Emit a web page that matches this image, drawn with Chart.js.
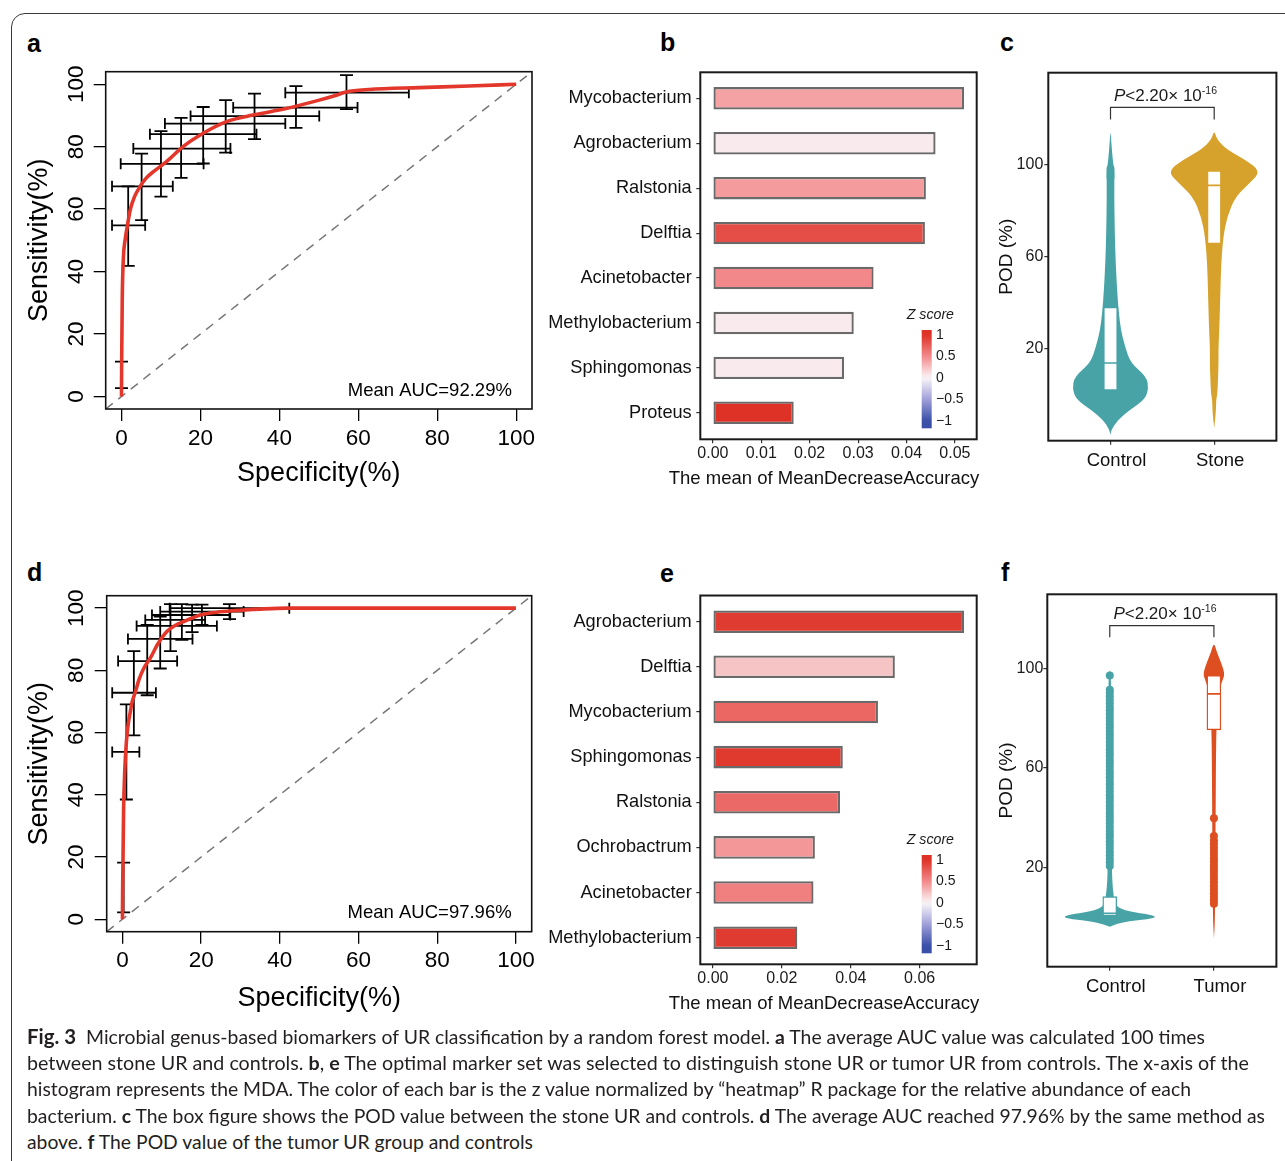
<!DOCTYPE html>
<html>
<head>
<meta charset="utf-8">
<script src="https://cdn.jsdelivr.net/npm/chart.js@4.4.1/dist/chart.umd.min.js"></script>
<style>
html, body { margin: 0; padding: 0; background: #fff; }
body { width: 1285px; height: 1161px; position: relative; overflow: hidden; font-family: 'Liberation Sans', Arial, sans-serif; }
#frame { position: absolute; left: 11px; top: 13px; width: 1330px; height: 1220px; border: 1.3px solid #3a3a3a; border-radius: 14px; box-sizing: border-box; }
canvas { position: absolute; }
.tag { position: absolute; font-weight: bold; font-size: 25px; line-height: 25px; color: #000; }
.xt { position: absolute; font-size: 18.5px; line-height: 22px; color: #111; white-space: nowrap; transform: translateX(-50%); }
.ln { position: absolute; left: 27px; white-space: nowrap; font-family: Lato, 'Open Sans', sans-serif; font-size: 19px; line-height: 20px; color: #231f20; transform-origin: 0 50%; }
.ln b { font-weight: bold; }
.ln .fig { font-size: 20px; }
</style>
</head>
<body>
<div id="frame"></div>

<div class="tag" style="left:27px;top:31px">a</div>
<div class="tag" style="left:660px;top:30px">b</div>
<div class="tag" style="left:1000px;top:30px">c</div>
<div class="tag" style="left:27px;top:560px">d</div>
<div class="tag" style="left:660px;top:561px">e</div>
<div class="tag" style="left:1001px;top:560px">f</div>

<canvas id="chartA" width="525" height="440" style="left:20px;top:60px;width:525px;height:440px"></canvas>
<canvas id="chartB" width="460" height="440" style="left:530px;top:55px;width:460px;height:440px"></canvas>
<canvas id="chartC" width="295" height="440" style="left:990px;top:55px;width:295px;height:440px"></canvas>
<canvas id="chartD" width="525" height="440" style="left:20px;top:585px;width:525px;height:440px"></canvas>
<canvas id="chartE" width="460" height="440" style="left:530px;top:580px;width:460px;height:440px"></canvas>
<canvas id="chartF" width="295" height="440" style="left:990px;top:580px;width:295px;height:440px"></canvas>

<div class="xt" style="left:824px;top:467px">The mean of MeanDecreaseAccuracy</div>
<div class="xt" style="left:824px;top:992px">The mean of MeanDecreaseAccuracy</div>

<div class="ln" data-w="1178" style="top:1026px"><b class="fig">Fig. 3</b>&nbsp;&nbsp;Microbial genus-based biomarkers of UR classification by a random forest model. <b>a</b> The average AUC value was calculated 100 times</div>
<div class="ln" data-w="1222" style="top:1053px">between stone UR and controls. <b>b</b>, <b>e</b> The optimal marker set was selected to distinguish stone UR or tumor UR from controls. The x-axis of the</div>
<div class="ln" data-w="1164" style="top:1079px">histogram represents the MDA. The color of each bar is the z value normalized by “heatmap” R package for the relative abundance of each</div>
<div class="ln" data-w="1238" style="top:1106px">bacterium. <b>c</b> The box figure shows the POD value between the stone UR and controls. <b>d</b> The average AUC reached 97.96% by the same method as</div>
<div class="ln" data-w="506" style="top:1132px">above. <b>f</b> The POD value of the tumor UR group and controls</div>

<script>
// Fig. 3 - random forest biomarkers: ROC curves, MDA bars, POD violins

// ==================== DATA ====================
// ROC (a, d): mean curve + confidence crosses
const rocTicks = [0, 20, 40, 60, 80, 100];
const rocRange = [-4, 104];

const aSpec = [0, 0.05, 0.2, 0.5, 0.9, 1.4, 2.2, 3.3, 4.7, 6.3, 8.1, 11.4, 15.6, 20.6, 26.6, 33.3, 41.7, 50.1, 54, 56.9, 62.7, 75.4, 88, 100];
const aSens = [0, 12, 32, 44.8, 50, 54, 59.7, 64, 67.2, 70, 72, 75.2, 80, 84.2, 88, 90.1, 92.2, 94.9, 96.3, 97.5, 98.3, 98.9, 99.4, 100];
// [sensitivity, spec low, spec high]
const aSpecCI = [[54.8, -2.4, 6.0], [67.3, -2.4, 13.0], [74.5, -0.2, 20.8], [79.4, 3.0, 27.6], [84.0, 7.2, 34.2], [87.4, 11.0, 41.5], [89.8, 17.5, 50.1], [92.5, 28.3, 59.8], [97.3, 41.5, 72.8]];
// [specificity, sens low, sens high]
const aSensCI = [[0.0, 2.7, 11.2], [1.7, 41.8, 67.3], [5.1, 56.5, 77.8], [10.0, 64.0, 85.0], [15.1, 70.0, 89.2], [20.7, 74.6, 92.7], [26.4, 78.1, 94.9], [33.7, 82.4, 97.0], [44.2, 86.0, 99.4], [57.0, 92.0, 102.9]];
const aAUC = 'Mean AUC=92.29%';

const dSpec = [0, 0.05, 0.3, 0.6, 1.0, 1.5, 2.0, 2.5, 3.3, 4.2, 5.4, 7.1, 9.0, 11.3, 13.5, 15.6, 19.8, 24, 28.3, 35, 41.8, 60, 100];
const dSens = [0, 10, 35.5, 48, 57, 63, 66.7, 70, 73.1, 77, 80.6, 84, 88.5, 92.5, 94.5, 95.7, 97.8, 98.7, 99.2, 99.7, 100, 100, 100];
const dSpecCI = [[53.8, -2.6, 4.3], [72.8, -2.6, 8.5], [83.0, -1.1, 13.9], [90.1, 1.4, 17.8], [94.3, 3.6, 24.0], [96.2, 5.8, 21.0], [97.8, 7.5, 27.4], [98.9, 9.6, 30.8], [100, 12.0, 42.4]];
const dSensCI = [[0.3, 2.2, 18.2], [1.0, 38.5, 69.1], [2.9, 59.1, 86.2], [6.3, 72.0, 94.6], [9.6, 80.6, 97.3], [12.2, 86.2, 101.3], [15.1, 89.8, 101.3], [17.7, 92.3, 101.1], [20.2, 94.6, 101.1], [27.2, 96.5, 101.3]];
const dAUC = 'Mean AUC=97.96%';

// MDA bars (b, e) with z score of relative abundance
const bGenus = ['Mycobacterium', 'Agrobacterium', 'Ralstonia', 'Delftia', 'Acinetobacter', 'Methylobacterium', 'Sphingomonas', 'Proteus'];
const bMDA = [0.0519, 0.0460, 0.0440, 0.0438, 0.0332, 0.0291, 0.0271, 0.0167];
const bZ = [0.39, 0.05, 0.42, 0.84, 0.51, 0.05, 0.05, 1.0];
const bTicks = [0, 0.01, 0.02, 0.03, 0.04, 0.05];

const eGenus = ['Agrobacterium', 'Delftia', 'Mycobacterium', 'Sphingomonas', 'Ralstonia', 'Ochrobactrum', 'Acinetobacter', 'Methylobacterium'];
const eMDA = [0.0729, 0.0528, 0.0479, 0.0377, 0.0369, 0.0296, 0.0292, 0.0245];
const eZ = [0.95, 0.23, 0.70, 0.96, 0.68, 0.44, 0.56, 0.95];
const eTicks = [0, 0.02, 0.04, 0.06];

const zTicks = [1, 0.5, 0, -0.5, -1];

// POD violins (c, f): y values and relative density
const podTicks = [20, 60, 100];

const cGroups = ['Control', 'Stone'];
const cCtrlY = [-17.4, -15.2, -10.9, -6.5, -2.2, 2.5, 8.0, 13.8, 21.0, 28.3, 35.5, 42.7, 57.2, 71.7, 86.2, 96.4, 103.6, 109.3, 115.1];
const cCtrlD = [0, 0.02, 0.16, 0.42, 0.73, 0.82, 0.77, 0.43, 0.31, 0.22, 0.18, 0.15, 0.11, 0.09, 0.08, 0.085, 0.04, 0.02, 0];
const cStoneY = [-14.5, -8.0, -2.2, 0.7, 8.0, 13.8, 19.6, 28.3, 42.7, 57.2, 68.8, 77.5, 86.2, 92.1, 97.1, 102.2, 106.5, 110.9, 115.1];
const cStoneD = [0, 0.036, 0.042, 0.07, 0.084, 0.094, 0.09, 0.11, 0.13, 0.15, 0.195, 0.28, 0.455, 0.77, 1, 0.665, 0.28, 0.057, 0];
const cQ1 = [1.9, 65.6];
const cMedian = [13.8, 91.0];
const cQ3 = [38.1, 97.4];
const cCtrlOut = [94.5, 95.8, 97.0, 98.2];
const cStoneOut = [];

const fGroups = ['Control', 'Tumor'];
const fCtrlY = [-3.9, -1.9, -0.8, 0.1, 1.0, 2.0, 3.4, 5.4, 11.5, 18.2, 38.3, 65.1, 91.9, 95.9, 100.6];
const fCtrlD = [0, 0.27, 0.84, 1, 0.84, 0.46, 0.21, 0.105, 0.063, 0.046, 0.031, 0.029, 0.027, 0.025, 0];
const fTumorY = [-8.6, -1.9, 11.5, 38.3, 58.4, 71.8, 85.2, 90.6, 94.6, 97.3, 99.3, 102.7, 106.7, 110.7];
const fTumorD = [0, 0.021, 0.027, 0.036, 0.042, 0.048, 0.069, 0.105, 0.168, 0.224, 0.21, 0.147, 0.063, 0];
const fQ1 = [0.5, 75.4];
const fMedian = [1.5, 89.9];
const fQ3 = [8.2, 97.3];
const fCtrlOut = [20.6, 22.1, 23.4, 24.9, 26.3, 27.8, 29.2, 30.5, 32.1, 33.4, 34.8, 36.3, 37.9, 39.2, 40.6, 42.0, 43.5, 44.9, 46.4, 47.7, 49.1, 50.6, 52.0, 53.5, 54.8, 56.3, 57.7, 59.0, 60.6, 62.0, 63.3, 64.9, 66.2, 67.6, 69.1, 70.5, 71.9, 73.4, 74.7, 76.2, 77.6, 79.0, 80.4, 81.9, 83.3, 84.6, 86.1, 87.5, 88.9, 90.4, 91.6, 97.3];
const fTumorOut = [5.4, 6.8, 8.1, 9.6, 11.0, 12.4, 13.9, 15.3, 16.6, 18.1, 19.5, 20.9, 22.4, 23.7, 25.2, 26.6, 28.0, 29.5, 30.8, 32.6, 39.8];

const pValueText = ['P', '<2.20\u00d7 10', '-16'];

// ==================== STYLE ====================
const FONT = '"Liberation Sans", Arial, sans-serif';
Chart.defaults.font.family = FONT;
Chart.defaults.color = '#000';

const TEAL = '#48a3a7', GOLD = '#d7a22c', ORANGE = '#dd4f21', RED = '#e2372a';
const zStops = [[-1, [58, 80, 168]], [-0.5, [160, 160, 218]], [0, [250, 246, 248]], [0.5, [243, 138, 140]], [1, [222, 50, 38]]];

function zColor(z) {
    z = Math.max(-1, Math.min(1, z));
    for (let i = 1; i < zStops.length; i++) {
        const [z0, c0] = zStops[i - 1], [z1, c1] = zStops[i];
        if (z <= z1) {
            const t = (z - z0) / (z1 - z0);
            return 'rgb(' + c0.map((c, k) => Math.round(c + (c1[k] - c) * t)).join(',') + ')';
        }
    }
}

// ==================== PLUGINS ====================
function framePlugin(width, color) {
    return {
        id: 'frame',
        afterDraw(chart) {
            const { ctx, chartArea: a } = chart;
            ctx.save();
            ctx.lineWidth = width; ctx.strokeStyle = color;
            ctx.strokeRect(a.left, a.top, a.right - a.left, a.bottom - a.top);
            ctx.restore();
        }
    };
}

// R style y labels, turned to read bottom-up
function rotatedYLabels(offset, size) {
    return {
        id: 'rotY',
        afterDraw(chart) {
            const { ctx, chartArea } = chart, y = chart.scales.y;
            ctx.save();
            ctx.font = size + 'px ' + FONT; ctx.fillStyle = '#000';
            ctx.textAlign = 'center'; ctx.textBaseline = 'middle';
            y.ticks.forEach(t => {
                ctx.save();
                ctx.translate(chartArea.left - offset, y.getPixelForValue(t.value));
                ctx.rotate(-Math.PI / 2);
                ctx.fillText(String(t.value), 0, 0);
                ctx.restore();
            });
            ctx.restore();
        }
    };
}

function cornerText(text, xv, yv) {
    return {
        id: 'auc',
        afterDatasetsDraw(chart) {
            const { ctx, scales: { x, y } } = chart;
            ctx.save();
            ctx.font = '18.5px ' + FONT; ctx.fillStyle = '#000';
            ctx.textAlign = 'right'; ctx.textBaseline = 'alphabetic';
            ctx.fillText(text, x.getPixelForValue(xv), y.getPixelForValue(yv));
            ctx.restore();
        }
    };
}

function zLegend(ticks) {
    return {
        id: 'zLegend',
        afterDraw(chart) {
            const { ctx, chartArea: a } = chart;
            const left = a.right - 55, w = 10, top = a.bottom - 109.3, h = 98.3;
            const vy = v => top + 5 + (1 - v) / 2 * 85.7;
            const grad = ctx.createLinearGradient(0, top, 0, top + h);
            for (let i = 0; i <= 24; i++) {
                const py = top + h * i / 24;
                grad.addColorStop(i / 24, zColor(1 - (py - top - 5) / 42.85));
            }
            ctx.save();
            ctx.fillStyle = grad; ctx.fillRect(left, top, w, h);
            ctx.font = '14px ' + FONT; ctx.fillStyle = '#1a1a1a';
            ctx.textAlign = 'left'; ctx.textBaseline = 'middle';
            ticks.forEach(v => ctx.fillText(String(v).replace('-', '\u2212'), left + w + 4.3, vy(v)));
            ctx.font = 'italic 14.2px ' + FONT;
            ctx.fillText('Z score', a.right - 70, top - 15);
            ctx.restore();
        }
    };
}

function violinLayer(groups, half) {
    return {
        id: 'violins',
        beforeDatasetsDraw(chart) {
            const { ctx, chartArea: a, scales: { x, y } } = chart;
            ctx.save();
            ctx.beginPath(); ctx.rect(a.left, a.top, a.right - a.left, a.bottom - a.top); ctx.clip();
            groups.forEach(g => {
                const pts = [];
                g.y.forEach((v, i) => pts.push([x.getPixelForValue(g.x - g.d[i] * half), y.getPixelForValue(v)]));
                for (let i = g.y.length - 2; i >= 0; i--) pts.push([x.getPixelForValue(g.x + g.d[i] * half), y.getPixelForValue(g.y[i])]);
                ctx.beginPath();
                ctx.moveTo(pts[0][0], pts[0][1]);
                for (let i = 1; i < pts.length - 1; i++) {
                    ctx.quadraticCurveTo(pts[i][0], pts[i][1], (pts[i][0] + pts[i + 1][0]) / 2, (pts[i][1] + pts[i + 1][1]) / 2);
                }
                ctx.closePath();
                ctx.fillStyle = g.color;
                ctx.fill();
            });
            ctx.restore();
        }
    };
}

function pLabel(parts, xv, yv) {
    return {
        id: 'pLabel',
        afterDatasetsDraw(chart) {
            const { ctx, scales: { x, y } } = chart;
            const fonts = ['italic 17px ' + FONT, '17px ' + FONT, '10.5px ' + FONT];
            const rise = [0, 0, -7];
            ctx.save();
            const widths = parts.map((t, i) => { ctx.font = fonts[i]; return ctx.measureText(t).width; });
            let px = x.getPixelForValue(xv) - widths.reduce((s, w) => s + w, 0) / 2;
            const py = y.getPixelForValue(yv);
            ctx.fillStyle = '#1a1a1a'; ctx.textBaseline = 'alphabetic'; ctx.textAlign = 'left';
            parts.forEach((t, i) => { ctx.font = fonts[i]; ctx.fillText(t, px, py + rise[i]); px += widths[i]; });
            ctx.restore();
        }
    };
}

// ==================== ROC ====================
function rocChart(id, spec, sens, specCI, sensCI, auc, g) {
    const curve = spec.map((x, i) => ({ x, y: sens[i] }));
    const hBars = [], vBars = [];
    specCI.forEach(([y, lo, hi]) => hBars.push({ x: lo, y }, { x: hi, y }, { x: null, y: null }));
    sensCI.forEach(([x, lo, hi]) => vBars.push({ x, y: lo }, { x, y: hi }, { x: null, y: null }));
    const axis = extra => Object.assign({
        type: 'linear', min: rocRange[0], max: rocRange[1],
        afterBuildTicks: s => { s.ticks = rocTicks.map(v => ({ value: v })); },
        grid: { drawOnChartArea: false, tickLength: 12, color: '#000', lineWidth: 1.3 },
        border: { display: false }
    }, extra);
    return new Chart(document.getElementById(id), {
        type: 'scatter',
        data: {
            datasets: [
                { data: curve, showLine: true, borderColor: RED, borderWidth: 3.6, pointRadius: 0, cubicInterpolationMode: 'monotone' },
                { data: hBars, showLine: true, borderColor: '#000', borderWidth: 1.8, pointStyle: 'line', pointRadius: 5.5, pointRotation: 90, pointBorderColor: '#000', pointBorderWidth: 1.8 },
                { data: vBars, showLine: true, borderColor: '#000', borderWidth: 1.8, pointStyle: 'line', pointRadius: 6.5, pointRotation: 0, pointBorderColor: '#000', pointBorderWidth: 1.8 },
                { data: rocRange.map(v => ({ x: v, y: v })), showLine: true, borderColor: '#777', borderWidth: 1.5, borderDash: [9, 7], pointRadius: 0 }
            ]
        },
        options: {
            responsive: false, animation: false, events: [], devicePixelRatio: 1,
            layout: { padding: { left: 0, top: g.top, right: g.right, bottom: 0 } },
            plugins: { legend: { display: false }, tooltip: { enabled: false } },
            scales: {
                x: axis({
                    afterFit: s => { s.height = g.xh; },
                    ticks: { font: { size: 22.5 }, color: '#000', padding: 3.8, maxRotation: 0 },
                    title: { display: true, text: 'Specificity(%)', font: { size: 27 }, color: '#000', padding: { top: 0, bottom: 10.5 } }
                }),
                y: axis({
                    afterFit: s => { s.width = g.yw; },
                    ticks: { display: false },
                    title: { display: true, text: 'Sensitivity(%)', font: { size: 27 }, color: '#000', padding: { top: 3.8, bottom: 0 } }
                })
            }
        },
        plugins: [rotatedYLabels(g.yLab, 22.5), cornerText(auc, 98.9, 0.3), framePlugin(1.6, '#111')]
    });
}

// ==================== MDA BARS ====================
function mdaChart(id, genus, mda, z, ticks, g) {
    const top = Math.max(...mda);
    return new Chart(document.getElementById(id), {
        type: 'bar',
        data: {
            datasets: [{
                data: mda.map((v, i) => ({ x: v, y: i })), backgroundColor: z.map(zColor), borderColor: '#6a6a6a', borderWidth: 2.3,
                borderSkipped: false, barPercentage: 0.5, categoryPercentage: 1
            }]
        },
        options: {
            indexAxis: 'y', responsive: false, animation: false, events: [], devicePixelRatio: 1,
            layout: { padding: { left: 0, top: g.top, right: g.right, bottom: 0 } },
            plugins: { legend: { display: false }, tooltip: { enabled: false } },
            scales: {
                x: {
                    type: 'linear', min: -top * 0.05, max: top * 1.05,
                    afterBuildTicks: s => { s.ticks = ticks.map(v => ({ value: v })); },
                    afterFit: s => { s.height = g.xh; },
                    ticks: { callback: v => v.toFixed(2), font: { size: 16 }, color: '#1a1a1a', padding: 1.1, maxRotation: 0, autoSkip: false },
                    grid: { drawOnChartArea: false, tickLength: 4, color: '#333', lineWidth: 1.2 },
                    border: { display: false }
                },
                y: {
                    type: 'linear', min: -0.58, max: genus.length - 0.41, reverse: true, offset: false,
                    afterBuildTicks: s => { s.ticks = genus.map((n, i) => ({ value: i })); },
                    afterFit: s => { s.width = g.yw; },
                    ticks: { callback: v => genus[v], font: { size: 18.2 }, color: '#111', padding: 4.6, autoSkip: false },
                    grid: { drawOnChartArea: false, tickLength: 4, color: '#333', lineWidth: 1.2, offset: false },
                    border: { display: false }
                }
            }
        },
        plugins: [zLegend(zTicks), framePlugin(2, '#1a1a1a')]
    });
}

// ==================== POD VIOLINS ====================
function podChart(id, groups, violins, q1, median, q3, outs, colors, yMax, bracket, pY, g) {
    const outPts = [], outCol = [];
    outs.forEach((list, i) => list.forEach(v => { outPts.push({ x: i + 1, y: v }); outCol.push(colors[i]); }));
    return new Chart(document.getElementById(id), {
        type: 'scatter',
        data: {
            datasets: [
                { data: median.map((v, i) => ({ x: i + 1, y: v })), pointStyle: 'line', pointRadius: 7, pointBorderWidth: 1.6, pointBorderColor: colors, pointBackgroundColor: colors },
                { type: 'bar', data: q1.map((v, i) => ({ x: i + 1, y: [v, q3[i]] })), backgroundColor: '#fff', borderColor: colors, borderWidth: 1.4, borderSkipped: false, barThickness: 14 },
                { data: outPts, pointRadius: 4, backgroundColor: outCol, borderWidth: 0 },
                { data: [{ x: 1, y: bracket[0] }, { x: 1, y: bracket[1] }, { x: 2, y: bracket[1] }, { x: 2, y: bracket[0] }], showLine: true, borderColor: '#333', borderWidth: 1.2, pointRadius: 0 }
            ]
        },
        options: {
            responsive: false, animation: false, events: [], devicePixelRatio: 1,
            layout: { padding: { left: 0, top: g.top, right: g.right, bottom: 0 } },
            plugins: { legend: { display: false }, tooltip: { enabled: false } },
            scales: {
                x: {
                    type: 'linear', min: 0.4, max: 2.6, offset: false,
                    afterBuildTicks: s => { s.ticks = groups.map((n, i) => ({ value: i + 1 })); },
                    afterFit: s => { s.height = g.xh; },
                    ticks: { callback: v => groups[v - 1], font: { size: 18.5 }, color: '#111', padding: g.xPad, labelOffset: 6, maxRotation: 0, autoSkip: false },
                    grid: { drawOnChartArea: false, tickLength: 4, color: '#333', lineWidth: 1.2, offset: false },
                    border: { display: false }
                },
                y: {
                    type: 'linear', min: -20, max: yMax,
                    afterBuildTicks: s => { s.ticks = podTicks.map(v => ({ value: v })); },
                    afterFit: s => { s.width = g.yw; },
                    ticks: { font: { size: 16 }, color: '#1a1a1a', padding: g.yPad },
                    grid: { drawOnChartArea: false, tickLength: 4, color: '#333', lineWidth: 1.2 },
                    border: { display: false },
                    title: { display: true, text: 'POD (%)', font: { size: 19 }, color: '#111', padding: { top: 5.3, bottom: 0 } }
                }
            }
        },
        plugins: [violinLayer(violins, 0.45), pLabel(pValueText, 1.53, pY), framePlugin(2, '#1a1a1a')]
    });
}

// ==================== BUILD ====================
rocChart('chartA', aSpec, aSens, aSpecCI, aSensCI, aAUC, { top: 11.7, right: 13, yw: 85.7, xh: 91, yLab: 29 });
rocChart('chartD', dSpec, dSens, dSpecCI, dSensCI, dAUC, { top: 10.7, right: 13.3, yw: 86.7, xh: 93.3, yLab: 30 });

mdaChart('chartB', bGenus, bMDA, bZ, bTicks, { top: 17.3, right: 13.3, yw: 170.3, xh: 55.7 });
mdaChart('chartE', eGenus, eMDA, eZ, eTicks, { top: 15, right: 13.3, yw: 170.3, xh: 55.7 });

podChart('chartC', cGroups,
    [{ x: 1, y: cCtrlY, d: cCtrlD, color: TEAL }, { x: 2, y: cStoneY, d: cStoneD, color: GOLD }],
    cQ1, cMedian, cQ3, [cCtrlOut, cStoneOut], [TEAL, GOLD], 140, [119.7, 124.9], 127.8,
    { top: 17.7, right: 6.7, yw: 58.3, xh: 54.3, xPad: 5.2, yPad: 1 });
podChart('chartF', fGroups,
    [{ x: 1, y: fCtrlY, d: fCtrlD, color: TEAL }, { x: 2, y: fTumorY, d: fTumorD, color: ORANGE }],
    fQ1, fMedian, fQ3, [fCtrlOut, fTumorOut], [TEAL, ORANGE], 130, [112.7, 117.4], 120.1,
    { top: 14.3, right: 6.7, yw: 57.3, xh: 53.3, xPad: 5.5, yPad: 0 });

// caption lines: stretch each line to the width it has in the figure
document.querySelectorAll('.ln').forEach(el => {
    const w = el.getBoundingClientRect().width;
    el.style.transform = 'scaleX(' + (el.dataset.w / w) + ')';
});
</script>
</body>
</html>
